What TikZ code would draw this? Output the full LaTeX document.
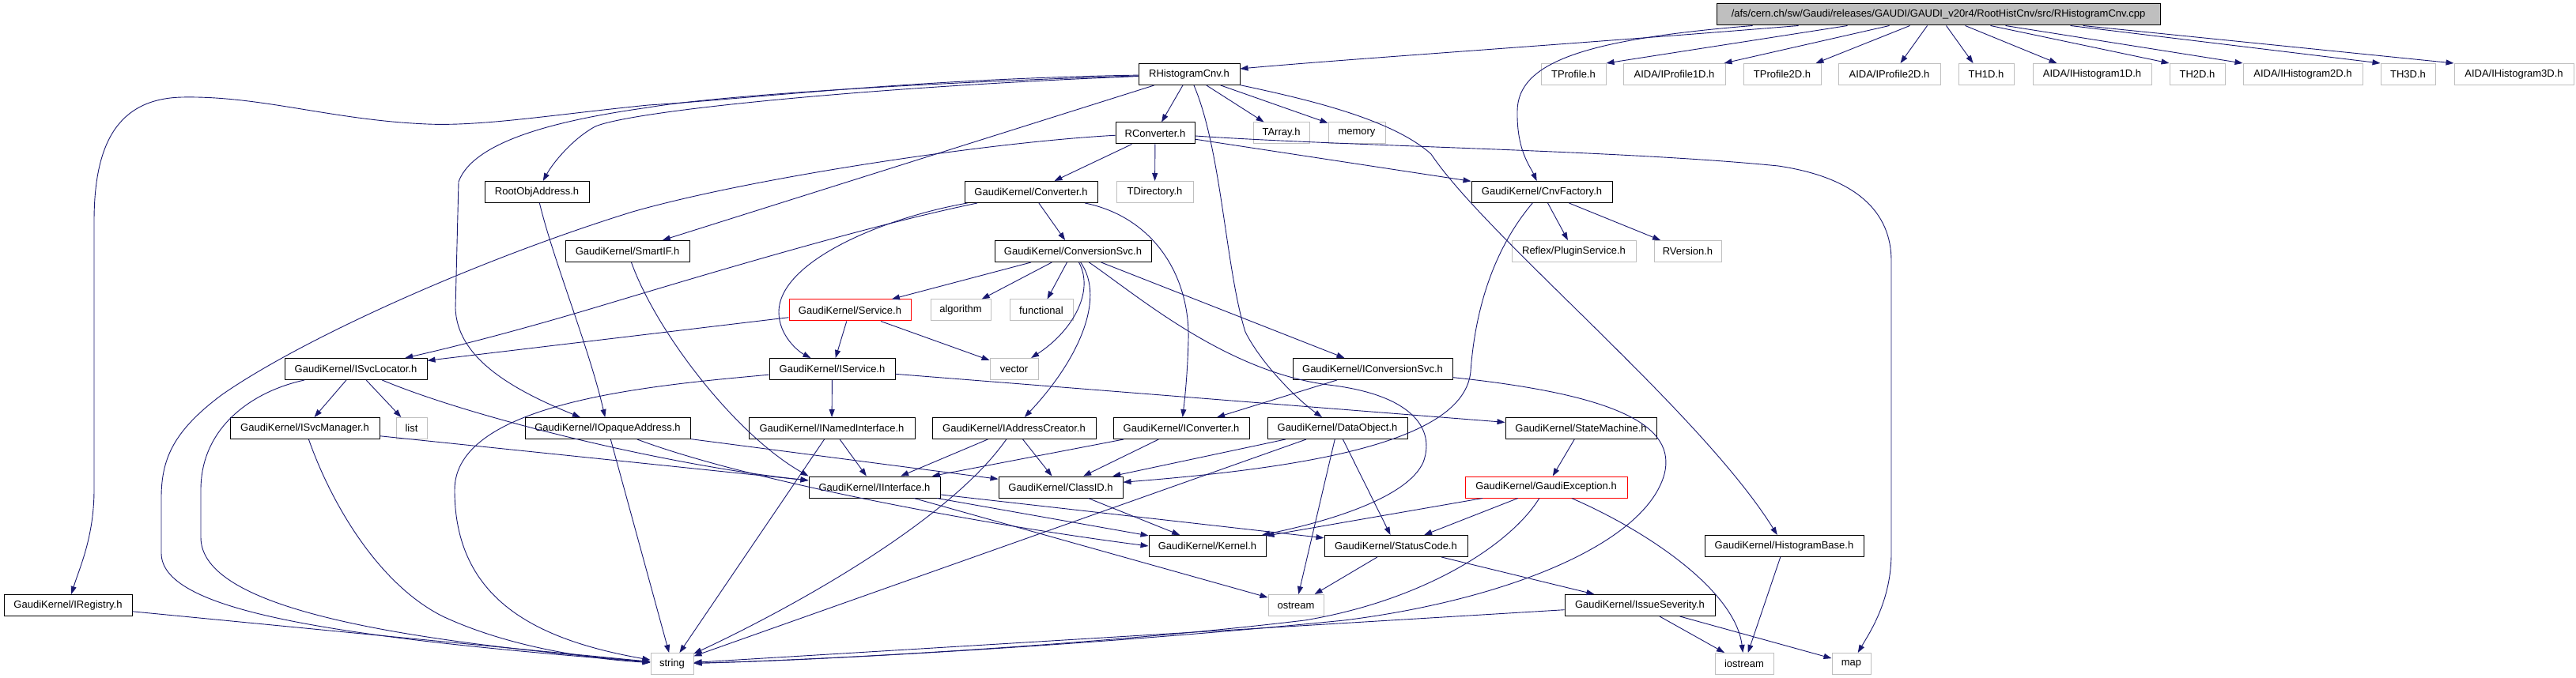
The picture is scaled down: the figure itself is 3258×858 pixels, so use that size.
\documentclass[tikz,border=0pt]{standalone}
\usepackage{fontspec}
\setmainfont{Liberation Sans}
\usetikzlibrary{arrows.meta}
\definecolor{edgec}{HTML}{191970}
\definecolor{greyb}{HTML}{BFBFBF}
\begin{document}
\begin{tikzpicture}[x=1pt,y=-1pt,
  box/.style={draw=black, line width=1pt, rectangle, minimum height=27pt, inner sep=0pt, font=\fontsize{13}{15}\selectfont, text=black},
  sysbox/.style={box, draw=greyb},
  redbox/.style={box, draw=red},
  dep/.style={draw=edgec, line width=0.9pt, -{Triangle[length=10pt,width=7pt]}}]
\useasboundingbox (0,0) rectangle (3258,858);
% ---- nodes
\node[box, fill=greyb, minimum width=561pt] (root) at (2451.5,18.5) {/afs/cern.ch/sw/Gaudi/releases/GAUDI/GAUDI\_v20r4/RootHistCnv/src/RHistogramCnv.cpp};
\node[box, minimum width=128pt] (rhc) at (1504,94) {RHistogramCnv.h};
\node[sysbox, minimum width=82pt] (tprof) at (1990,94) {TProfile.h};
\node[sysbox, minimum width=129pt] (iprof1) at (2117.5,94) {AIDA/IProfile1D.h};
\node[sysbox, minimum width=98pt] (tprof2) at (2254,94) {TProfile2D.h};
\node[sysbox, minimum width=129pt] (iprof2) at (2389.5,94) {AIDA/IProfile2D.h};
\node[sysbox, minimum width=70pt] (th1) at (2512,94) {TH1D.h};
\node[sysbox, minimum width=150pt] (ihist1) at (2646,94) {AIDA/IHistogram1D.h};
\node[sysbox, minimum width=70pt] (th2) at (2779,94) {TH2D.h};
\node[sysbox, minimum width=151pt] (ihist2) at (2912.5,94) {AIDA/IHistogram2D.h};
\node[sysbox, minimum width=69pt] (th3) at (3045.5,94) {TH3D.h};
\node[sysbox, minimum width=151pt] (ihist3) at (3179.5,94) {AIDA/IHistogram3D.h};

\node[box, minimum width=100pt] (rconv) at (1461,168.5) {RConverter.h};
\node[sysbox, minimum width=71pt] (tarray) at (1620.5,168.5) {TArray.h};
\node[sysbox, minimum width=72pt] (memory) at (1716,168.5) {memory};

\node[box, minimum width=132pt] (rootobj) at (679,243) {RootObjAddress.h};
\node[box, minimum width=168pt] (conv) at (1304,243) {GaudiKernel/Converter.h};
\node[sysbox, minimum width=97pt] (tdir) at (1460.5,243) {TDirectory.h};
\node[box, minimum width=178pt] (cnvf) at (1950,243) {GaudiKernel/CnvFactory.h};

\node[box, minimum width=157pt] (smartif) at (793.5,318) {GaudiKernel/SmartIF.h};
\node[box, minimum width=198pt] (convsvc) at (1357,318) {GaudiKernel/ConversionSvc.h};
\node[sysbox, minimum width=157pt] (reflex) at (1990.5,318) {Reflex/PluginService.h};
\node[sysbox, minimum width=85pt] (rversion) at (2134.5,318) {RVersion.h};

\node[redbox, minimum width=154pt] (service) at (1075,392.5) {GaudiKernel/Service.h};
\node[sysbox, minimum width=76pt] (algorithm) at (1215,392.5) {algorithm};
\node[sysbox, minimum width=80pt] (functional) at (1317,392.5) {functional};

\node[box, minimum width=180pt] (isvcl) at (450,467) {GaudiKernel/ISvcLocator.h};
\node[box, minimum width=159pt] (iserv) at (1052.5,467) {GaudiKernel/IService.h};
\node[sysbox, minimum width=61pt] (vector) at (1282.5,467) {vector};
\node[box, minimum width=202pt] (iconvsvc) at (1736,467) {GaudiKernel/IConversionSvc.h};

\node[box, minimum width=189pt] (ismgr) at (385.5,542) {GaudiKernel/ISvcManager.h};
\node[sysbox, minimum width=39pt] (list) at (520.5,542) {list};
\node[box, minimum width=209pt] (iopa) at (768.5,542) {GaudiKernel/IOpaqueAddress.h};
\node[box, minimum width=210pt] (inamed) at (1052,542) {GaudiKernel/INamedInterface.h};
\node[box, minimum width=207pt] (iaddr) at (1282.5,542) {GaudiKernel/IAddressCreator.h};
\node[box, minimum width=172pt] (iconv) at (1494,542) {GaudiKernel/IConverter.h};
\node[box, minimum width=177pt] (dataobj) at (1691.5,542) {GaudiKernel/DataObject.h};
\node[box, minimum width=191pt] (statem) at (1999.5,542) {GaudiKernel/StateMachine.h};

\node[box, minimum width=166pt] (iint) at (1106,616.5) {GaudiKernel/IInterface.h};
\node[box, minimum width=157pt] (classid) at (1341.5,616.5) {GaudiKernel/ClassID.h};
\node[redbox, minimum width=205pt] (gexc) at (1955.5,616.5) {GaudiKernel/GaudiException.h};

\node[box, minimum width=148pt] (kernel) at (1527,691) {GaudiKernel/Kernel.h};
\node[box, minimum width=181pt] (statusc) at (1765.5,691) {GaudiKernel/StatusCode.h};
\node[box, minimum width=201pt] (histb) at (2256.5,691) {GaudiKernel/HistogramBase.h};

\node[box, minimum width=162pt] (ireg) at (86,766) {GaudiKernel/IRegistry.h};
\node[sysbox, minimum width=70pt] (ostream) at (1639,766) {ostream};
\node[box, minimum width=190pt] (issue) at (2074,766) {GaudiKernel/IssueSeverity.h};

\node[sysbox, minimum width=54pt] (string) at (850,840) {string};
\node[sysbox, minimum width=74pt] (iostream) at (2206,840) {iostream};
\node[sysbox, minimum width=49pt] (map) at (2341.5,840) {map};

% ---- edges from root
\draw[dep] ([xshift=104pt]root.south west) .. controls (2000,55) and (1700,75) .. ([yshift=7pt]rhc.east);
\draw[dep] ([xshift=166pt]root.south west) -- (tprof.north east);
\draw[dep] ([xshift=219pt]root.south west) -- ([xshift=-2pt]iprof1.north east);
\draw[dep] ([xshift=245pt]root.south west) -- ([xshift=-7pt]tprof2.north east);
\draw[dep] ([xshift=267pt]root.south west) -- ([xshift=-51pt]iprof2.north east);
\draw[dep] ([xshift=291pt]root.south west) -- ([xshift=19pt]th1.north west);
\draw[dep] ([xshift=315pt]root.south west) -- ([xshift=31pt]ihist1.north west);
\draw[dep] ([xshift=347pt]root.south west) -- (th2.north west);
\draw[dep] ([xshift=366pt]root.south west) -- (ihist2.north west);
\draw[dep] ([xshift=448pt]root.south west) -- (th3.north west);
\draw[dep] ([xshift=464pt]root.south west) -- (ihist3.north west);
\draw[dep] ([xshift=46pt]root.south west) .. controls (2000,50) and (1920,80) .. (1919,140) .. controls (1918,190) and (1935,210) .. (cnvf);

% ---- RHistogramCnv.h
\draw[dep] (rhc) .. controls (1150,100) and (950,125) .. (820,133) .. controls (700,145) and (610,160) .. (540,157) .. controls (420,152) and (330,121) .. (230,123) .. controls (150,125) and (119,180) .. (119,280) -- (119,620) .. controls (119,680) and (100,720) .. (ireg);
\draw[dep] (rhc) .. controls (1150,105) and (900,122) .. (820,136) .. controls (720,150) and (600,175) .. (580,230) -- (576,390) .. controls (578,450) and (640,490) .. (iopa);
\draw[dep] (rhc) .. controls (1100,110) and (800,140) .. (753,160) .. controls (725,175) and (700,205) .. (rootobj);
\draw[dep] (rhc) -- (smartif);
\draw[dep] (rhc) -- (rconv);
\draw[dep] (rhc) -- (tarray);
\draw[dep] (rhc) -- (memory);
\draw[dep] (rhc) .. controls (1545,190) and (1550,340) .. (1575,420) .. controls (1595,460) and (1640,505) .. (dataobj);
\draw[dep] (rhc) .. controls (1650,125) and (1760,150) .. (1810,195) .. controls (1880,300) and (2150,520) .. (histb);

% ---- RConverter.h
\draw[dep] (rconv) -- (conv);
\draw[dep] (rconv) -- (tdir);
\draw[dep] (rconv) -- (cnvf);
\draw[dep] (rconv) .. controls (1700,185) and (2050,190) .. (2249,210) .. controls (2350,225) and (2392,270) .. (2392,330) -- (2392,700) .. controls (2392,760) and (2365,800) .. (map);
\draw[dep] (rconv) .. controls (1250,180) and (950,225) .. (800,268) .. controls (600,330) and (380,430) .. (280,500) .. controls (220,545) and (204,580) .. (204,630) -- (204,700) .. controls (204,770) and (400,805) .. (string);

% ---- Converter.h
\draw[dep] (conv) -- (convsvc);
\draw[dep] (conv) .. controls (1120,275) and (985,330) .. (985,395) .. controls (985,425) and (1010,445) .. (iserv);
\draw[dep] (conv) .. controls (1460,275) and (1505,350) .. (1503,430) .. controls (1502,470) and (1499,500) .. (iconv);
\draw[dep] (conv) .. controls (1100,285) and (900,345) .. (760,387) .. controls (650,420) and (570,440) .. (isvcl);

% ---- ConversionSvc.h
\draw[dep] (convsvc) -- (service);
\draw[dep] (convsvc) -- (algorithm);
\draw[dep] (convsvc) -- (functional);
\draw[dep] (convsvc) .. controls (1385,370) and (1355,420) .. (vector);
\draw[dep] (convsvc) .. controls (1400,380) and (1360,460) .. (iaddr);
\draw[dep] (convsvc) .. controls (1440,375) and (1550,470) .. (1680,487) .. controls (1790,500) and (1815,545) .. (1800,585) .. controls (1780,630) and (1680,660) .. (kernel);
\draw[dep] (convsvc) -- (iconvsvc);

% ---- Service.h
\draw[dep] (service) -- (iserv);
\draw[dep] (service) -- (isvcl);
\draw[dep] (service) -- (vector);

% ---- IService.h
\draw[dep] (iserv) -- (inamed);
\draw[dep] (iserv) -- (statem);
\draw[dep] (iserv) .. controls (820,488) and (575,510) .. (575,620) .. controls (575,760) and (680,810) .. (string);

% ---- ISvcLocator.h
\draw[dep] (isvcl) -- (ismgr);
\draw[dep] (isvcl) -- (list);
\draw[dep] (isvcl) .. controls (600,530) and (850,590) .. (iint);
\draw[dep] (isvcl) .. controls (320,495) and (254,540) .. (254,620) -- (254,680) .. controls (254,770) and (500,810) .. (string);

% ---- ISvcManager.h
\draw[dep] (ismgr) -- (iint);
\draw[dep] (ismgr) .. controls (420,640) and (480,740) .. (560,780) .. controls (650,822) and (760,835) .. (string);

% ---- SmartIF, RootObjAddress
\draw[dep] (smartif) .. controls (830,420) and (930,550) .. (iint.north west);
\draw[dep] (rootobj) .. controls (700,330) and (745,440) .. (iopa);

% ---- IOpaqueAddress.h
\draw[dep] (iopa) -- (classid);
\draw[dep] (iopa) .. controls (950,610) and (1250,665) .. (kernel.west);
\draw[dep] (iopa) -- (string);

% ---- INamedInterface, IAddressCreator, IConverter, IConversionSvc
\draw[dep] (inamed) -- (iint);
\draw[dep] (inamed) -- (string);
\draw[dep] (iaddr) -- (iint);
\draw[dep] (iaddr) -- (classid);
\draw[dep] (iaddr) .. controls (1200,660) and (1000,770) .. (string);
\draw[dep] (iconv) -- (iint);
\draw[dep] (iconv) -- (classid);
\draw[dep] (iconvsvc) -- (iconv);
\draw[dep] (iconvsvc) .. controls (2050,500) and (2120,540) .. (2105,600) .. controls (2080,690) and (1900,760) .. (1700,785) .. controls (1400,815) and (1050,835) .. (string);

% ---- DataObject.h
\draw[dep] (dataobj) -- (classid);
\draw[dep] (dataobj) -- (string);
\draw[dep] (dataobj) -- (ostream);
\draw[dep] (dataobj) -- (statusc);

% ---- StateMachine, GaudiException
\draw[dep] (statem) -- (gexc);
\draw[dep] (gexc) -- (kernel);
\draw[dep] (gexc) -- (statusc);
\draw[dep] (gexc) .. controls (1910,690) and (1800,760) .. (1650,785) .. controls (1400,815) and (1050,835) .. (string);
\draw[dep] (gexc) .. controls (2090,675) and (2195,750) .. (iostream);

% ---- IInterface, ClassID, StatusCode, IssueSeverity
\draw[dep] (iint) -- (kernel);
\draw[dep] (iint) -- (statusc);
\draw[dep] (iint) -- (ostream);
\draw[dep] (classid) -- (kernel);
\draw[dep] (statusc) -- (ostream);
\draw[dep] (statusc) -- (issue);
\draw[dep] (issue) -- (string);
\draw[dep] (issue) -- (iostream);
\draw[dep] (issue) -- (map);
\draw[dep] (histb) -- (iostream);
\draw[dep] (ireg) -- (string);

% ---- CnvFactory.h
\draw[dep] (cnvf) -- (reflex);
\draw[dep] (cnvf) -- (rversion);
\draw[dep] (cnvf) .. controls (1885,320) and (1865,400) .. (1860,470) .. controls (1852,560) and (1650,592) .. (classid);
\end{tikzpicture}
\end{document}
